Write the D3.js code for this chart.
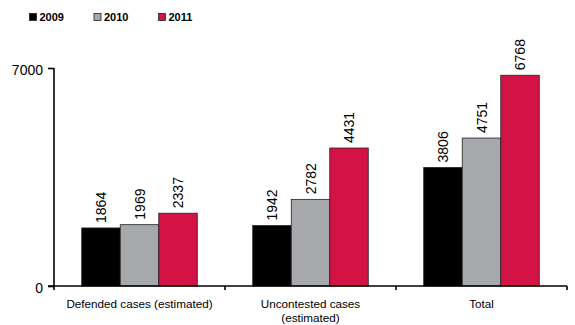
<!DOCTYPE html>
<html>
<head>
<meta charset="utf-8">
<script src="https://cdn.jsdelivr.net/npm/d3@7"></script>
<style>
  html, body { margin: 0; padding: 0; background: #fff; }
  svg { display: block; font-family: "Liberation Sans", Arial, Helvetica, sans-serif; }
</style>
</head>
<body>
<svg id="chart" width="575" height="325"></svg>
<script>
// Case counts by category and year
const categories = ["Defended cases (estimated)", "Uncontested cases (estimated)", "Total"];
const categoryLines = [["Defended cases (estimated)"], ["Uncontested cases", "(estimated)"], ["Total"]];
const years = ["2009", "2010", "2011"];
const values2009 = [1864, 1942, 3806];
const values2010 = [1969, 2782, 4751];
const values2011 = [2337, 4431, 6768];
const yTicks = [0, 7000];
const colors = ["#000000", "#a7a8ab", "#d31245"];

const seriesValues = [values2009, values2010, values2011];
const rows = categories.map((c, i) => ({
  category: c,
  values: years.map((y, j) => ({ year: y, value: seriesValues[j][i], color: colors[j] }))
}));

const svg = d3.select("#chart");
const plotLeft = 54, plotRight = 567, plotTop = 68, plotBottom = 286;

const x = d3.scaleBand().domain(categories).range([plotLeft, plotRight]).padding(0);
const xs = d3.scaleBand().domain(years).range([0, x.bandwidth()])
  .paddingInner(0).paddingOuter(0.72);
const y = d3.scaleLinear().domain([0, 7000]).range([plotBottom, plotTop]);

// Bars
const groups = svg.append("g").selectAll("g").data(rows).join("g")
  .attr("transform", d => `translate(${x(d.category)},0)`);

groups.selectAll("rect").data(d => d.values).join("rect")
  .attr("x", d => xs(d.year))
  .attr("y", d => y(d.value))
  .attr("width", xs.bandwidth())
  .attr("height", d => y(0) - y(d.value))
  .attr("fill", d => d.color)
  .attr("stroke", "#222")
  .attr("stroke-width", 0.8);

// Value labels, rotated above each bar
groups.selectAll("text").data(d => d.values).join("text")
  .attr("transform", d => `translate(${xs(d.year) + xs.bandwidth() / 2 + 5},${y(d.value) - 5}) rotate(-90)`)
  .attr("text-anchor", "start")
  .attr("font-size", 14)
  .attr("fill", "#000")
  .text(d => d.value);

// Y axis
const yAxis = svg.append("g")
  .attr("transform", `translate(${plotLeft},0)`)
  .call(d3.axisLeft(y).tickValues(yTicks).tickFormat(d3.format("d"))
    .tickSize(6).tickSizeOuter(0).tickPadding(5));
yAxis.select(".domain").attr("stroke", "#000").attr("stroke-width", 1.6)
  .attr("d", `M0,${plotBottom + 4}V${plotTop}`);
yAxis.selectAll(".tick line").attr("stroke", "#000").attr("stroke-width", 1.6);
yAxis.selectAll(".tick text").attr("font-size", 14).attr("fill", "#000")
  .attr("font-family", "Liberation Sans, Arial, sans-serif")
  .attr("dy", "0.45em");

// X axis baseline and category boundary ticks
const xAxis = svg.append("g");
xAxis.append("line")
  .attr("x1", plotLeft - 6).attr("x2", plotRight)
  .attr("y1", plotBottom).attr("y2", plotBottom)
  .attr("stroke", "#000").attr("stroke-width", 1.6);
const bounds = categories.map(c => x(c) + x.bandwidth());
xAxis.selectAll("line.b").data(bounds).join("line")
  .attr("class", "b")
  .attr("x1", d => d).attr("x2", d => d)
  .attr("y1", plotBottom).attr("y2", plotBottom + 4)
  .attr("stroke", "#000").attr("stroke-width", 1.6);

// Category labels
const labels = svg.append("g").selectAll("text").data(categories).join("text")
  .attr("x", d => x(d) + x.bandwidth() / 2)
  .attr("y", 308)
  .attr("text-anchor", "middle")
  .attr("font-size", 11.7)
  .attr("fill", "#000");
labels.selectAll("tspan").data((d, i) => categoryLines[i]).join("tspan")
  .attr("x", function () { return this.parentNode.getAttribute("x"); })
  .attr("dy", (d, i) => i === 0 ? 0 : 14)
  .text(d => d);

// Legend
const legend = svg.append("g").selectAll("g").data(years).join("g")
  .attr("transform", (d, i) => `translate(${29.5 + i * 64.5},13.5)`);
legend.append("rect")
  .attr("width", 7).attr("height", 7)
  .attr("fill", (d, i) => colors[i])
  .attr("stroke", "#222").attr("stroke-width", 0.8);
legend.append("text")
  .attr("x", 10).attr("y", 7.3)
  .attr("font-size", 11).attr("font-weight", "bold")
  .attr("fill", "#000")
  .text(d => d);
</script>
</body>
</html>
